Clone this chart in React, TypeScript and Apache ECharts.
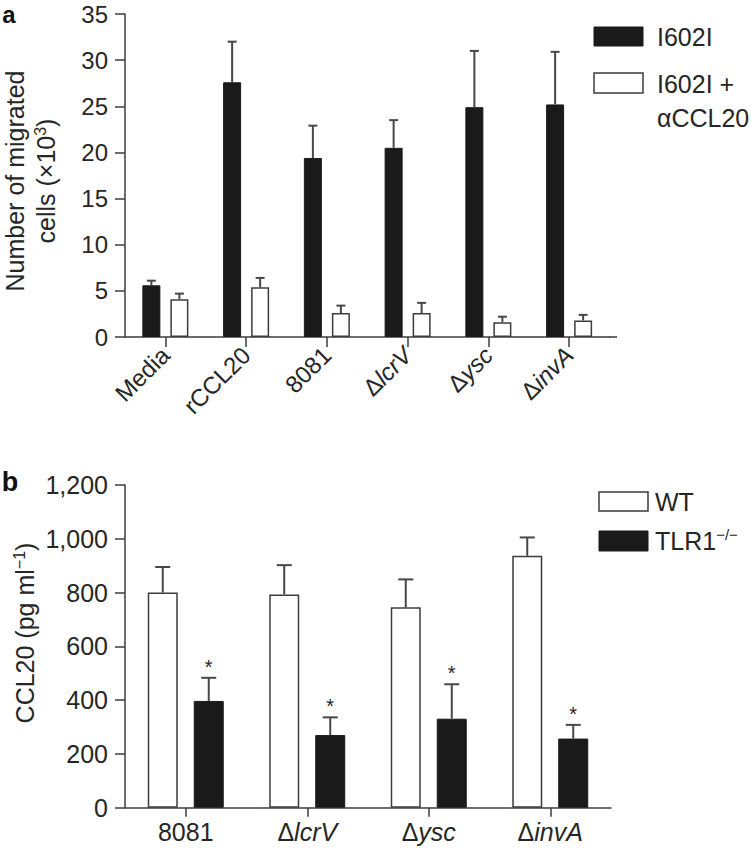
import React, { useEffect, useRef } from "react";
import * as echarts from "echarts";

// ---------- Panel a data ----------
const catsA = ["Media", "rCCL20", "8081", "ΔlcrV", "Δysc", "ΔinvA"];
const i602i = [5.6, 27.6, 19.4, 20.5, 24.9, 25.2];
const i602iUpper = [6.1, 32.0, 22.9, 23.5, 31.0, 30.9];
const i602iAnti = [4.1, 5.4, 2.6, 2.6, 1.6, 1.8];
const i602iAntiUpper = [4.7, 6.4, 3.4, 3.7, 2.2, 2.4];
const ticksA = { min: 0, max: 35, interval: 5 };

// ---------- Panel b data ----------
const catsB = ["8081", "ΔlcrV", "Δysc", "ΔinvA"];
const wt = [800, 793, 745, 937];
const wtUpper = [895, 902, 849, 1005];
const tlr1 = [397, 270, 331, 257];
const tlr1Upper = [483, 336, 459, 308];
const tlr1Sig = ["*", "*", "*", "*"];
const ticksB = { min: 0, max: 1200, interval: 200 };

const FONT = "'Liberation Sans', Arial, Helvetica, sans-serif";
const TXT = "#262626";
const LINE = "#3c3c3c";
const BLACK = "#1a1a1a";

function catLabel(v: string) {
  if (v.startsWith("Δ")) return "{n|Δ}{i|" + v.slice(1) + "}";
  return "{n|" + v + "}";
}

function errSeries(
  name: string,
  xi: number,
  means: number[],
  uppers: number[],
  offset: number,
  capW: number,
  stars?: string[]
) {
  const data = means.map((m, i) => [i, uppers[i], m, stars ? stars[i] : ""]);
  return {
    type: "custom",
    name,
    xAxisIndex: xi,
    yAxisIndex: xi,
    z: 5,
    silent: true,
    encode: { x: 0, y: 1 },
    data,
    renderItem: (params: any, api: any) => {
      const top = api.coord([api.value(0), api.value(1)]);
      const base = api.coord([api.value(0), api.value(2)]);
      const x = top[0] + offset;
      const st = { stroke: "#474747", lineWidth: 2 };
      const children: any[] = [
        { type: "line", shape: { x1: x, y1: base[1], x2: x, y2: top[1] }, style: st },
        { type: "line", shape: { x1: x - capW / 2, y1: top[1], x2: x + capW / 2, y2: top[1] }, style: st },
      ];
      const s = data[params.dataIndex][3];
      if (s) {
        children.push({
          type: "text",
          x: x,
          y: top[1] - 11,
          style: { text: s, fontSize: 20, fontFamily: FONT, fill: TXT, align: "center", verticalAlign: "middle" },
        });
      }
      return { type: "group", children };
    },
  };
}

export default function App() {
  const ref = useRef<HTMLDivElement>(null);
  useEffect(() => {
    if (!ref.current) return;
    const chart = echarts.init(ref.current, null, { renderer: "svg" });
    const axisLine = { show: true, lineStyle: { color: LINE, width: 1.5 } };
    const axisTick = { show: true, length: 10, lineStyle: { color: LINE, width: 1.5 } };
    const richCat = (fs: number) => ({
      n: { fontSize: fs, fontFamily: FONT, color: TXT },
      i: { fontSize: fs, fontFamily: FONT, color: TXT, fontStyle: "italic" },
    });
    const option: any = {
      animation: false,
      backgroundColor: "#ffffff",
      grid: [
        { left: 125, top: 14, width: 484.5, height: 323 },
        { left: 125, top: 485, width: 486, height: 322.7 },
      ],
      xAxis: [
        {
          type: "category",
          gridIndex: 0,
          data: catsA,
          axisLine,
          axisTick: { ...axisTick, alignWithLabel: true, interval: 0 },
          axisLabel: {
            interval: 0,
            rotate: 45,
            margin: 14,
            formatter: catLabel,
            rich: richCat(24),
          },
          splitLine: { show: false },
        },
        {
          type: "category",
          gridIndex: 1,
          data: catsB,
          axisLine,
          axisTick: { ...axisTick, length: 9, alignWithLabel: true, interval: 0 },
          axisLabel: {
            interval: 0,
            margin: 12,
            formatter: catLabel,
            rich: richCat(25),
          },
          splitLine: { show: false },
        },
      ],
      yAxis: [
        {
          type: "value",
          gridIndex: 0,
          ...ticksA,
          axisLine,
          axisTick,
          axisLabel: { fontSize: 24, fontFamily: FONT, color: TXT, margin: 17 },
          splitLine: { show: false },
        },
        {
          type: "value",
          gridIndex: 1,
          ...ticksB,
          axisLine,
          axisTick,
          axisLabel: {
            fontSize: 25,
            fontFamily: FONT,
            color: TXT,
            margin: 17,
            formatter: (v: number) => v.toLocaleString("en-US"),
          },
          splitLine: { show: false },
        },
      ],
      series: [
        {
          type: "bar",
          name: "I602I",
          xAxisIndex: 0,
          yAxisIndex: 0,
          data: i602i,
          barWidth: 18,
          barGap: "55.6%",
          itemStyle: { color: BLACK, borderColor: BLACK, borderWidth: 1 },
        },
        {
          type: "bar",
          name: "I602I + αCCL20",
          xAxisIndex: 0,
          yAxisIndex: 0,
          data: i602iAnti,
          barWidth: 18,
          barGap: "55.6%",
          itemStyle: { color: "#ffffff", borderColor: LINE, borderWidth: 1.5 },
        },
        errSeries("I602I err", 0, i602i, i602iUpper, -14, 9),
        errSeries("I602I + αCCL20 err", 0, i602iAnti, i602iAntiUpper, 14, 9),
        {
          type: "bar",
          name: "WT",
          xAxisIndex: 1,
          yAxisIndex: 1,
          data: wt,
          barWidth: 30,
          barGap: "53.3%",
          itemStyle: { color: "#ffffff", borderColor: LINE, borderWidth: 1.5 },
        },
        {
          type: "bar",
          name: "TLR1−/−",
          xAxisIndex: 1,
          yAxisIndex: 1,
          data: tlr1,
          barWidth: 30,
          barGap: "53.3%",
          itemStyle: { color: BLACK, borderColor: BLACK, borderWidth: 1 },
        },
        errSeries("WT err", 1, wt, wtUpper, -23, 15),
        errSeries("TLR1 err", 1, tlr1, tlr1Upper, 23, 15, tlr1Sig),
      ],
      graphic: [
        // panel letters
        { type: "text", x: 9, y: 14, style: { text: "a", fontSize: 24, fontWeight: "bold", fontFamily: FONT, fill: "#111", align: "center", verticalAlign: "middle" } },
        { type: "text", x: 10, y: 482, style: { text: "b", fontSize: 27, fontWeight: "bold", fontFamily: FONT, fill: "#111", align: "center", verticalAlign: "middle" } },
        // x-axis extension, panel a
        { type: "line", shape: { x1: 609, y1: 337, x2: 617, y2: 337 }, style: { stroke: LINE, lineWidth: 1.5 } },
        // y titles
        {
          type: "text",
          x: 30,
          y: 181,
          rotation: Math.PI / 2,
          style: {
            text: "{a|Number of migrated}\n{a|cells (×10}{s|3}{a|)}",
            align: "center",
            verticalAlign: "middle",
            fill: TXT,
            rich: {
              a: { fontSize: 25, fontFamily: FONT, fill: TXT, color: TXT, lineHeight: 31 },
              s: { fontSize: 16, fontFamily: FONT, fill: TXT, color: TXT, lineHeight: 31, verticalAlign: "top", padding: [2, 0, 0, 0] },
            },
          },
        },
        {
          type: "text",
          x: 25,
          y: 633,
          rotation: Math.PI / 2,
          style: {
            text: "{a|CCL20 (pg ml}{s|−1}{a|)}",
            align: "center",
            verticalAlign: "middle",
            fill: TXT,
            rich: {
              a: { fontSize: 25, fontFamily: FONT, fill: TXT, color: TXT, lineHeight: 30 },
              s: { fontSize: 16, fontFamily: FONT, fill: TXT, color: TXT, lineHeight: 30, verticalAlign: "top", padding: [1, 0, 0, 0] },
            },
          },
        },
        // legend a
        { type: "rect", shape: { x: 594, y: 27, width: 49, height: 19 }, style: { fill: BLACK, stroke: BLACK, lineWidth: 1 } },
        { type: "text", x: 657, y: 37, style: { text: "I602I", fontSize: 25, fontFamily: FONT, fill: TXT, align: "left", verticalAlign: "middle" } },
        { type: "rect", shape: { x: 594, y: 73, width: 49, height: 20 }, style: { fill: "#fff", stroke: LINE, lineWidth: 1.5 } },
        { type: "text", x: 657, y: 84, style: { text: "I602I +", fontSize: 25, fontFamily: FONT, fill: TXT, align: "left", verticalAlign: "middle" } },
        { type: "text", x: 657, y: 118, style: { text: "αCCL20", fontSize: 25, fontFamily: FONT, fill: TXT, align: "left", verticalAlign: "middle" } },
        // legend b
        { type: "rect", shape: { x: 599, y: 492, width: 49, height: 19 }, style: { fill: "#fff", stroke: LINE, lineWidth: 1.5 } },
        { type: "text", x: 655, y: 502, style: { text: "WT", fontSize: 25, fontFamily: FONT, fill: TXT, align: "left", verticalAlign: "middle" } },
        { type: "rect", shape: { x: 599, y: 531, width: 49, height: 20 }, style: { fill: BLACK, stroke: BLACK, lineWidth: 1 } },
        {
          type: "text",
          x: 655,
          y: 541,
          style: {
            text: "{a|TLR1}{s|−/−}",
            align: "left",
            verticalAlign: "middle",
            fill: TXT,
            rich: {
              a: { fontSize: 25, fontFamily: FONT, fill: TXT, color: TXT, lineHeight: 30 },
              s: { fontSize: 15, fontFamily: FONT, fill: TXT, color: TXT, lineHeight: 30, verticalAlign: "top", padding: [1, 0, 0, 0] },
            },
          },
        },
      ],
    };
    chart.setOption(option);
    return () => chart.dispose();
  }, []);
  return (
    <div
      ref={ref}
      style={{ position: "fixed", left: 0, top: 0, width: 753, height: 849, background: "#fff" }}
    />
  );
}
